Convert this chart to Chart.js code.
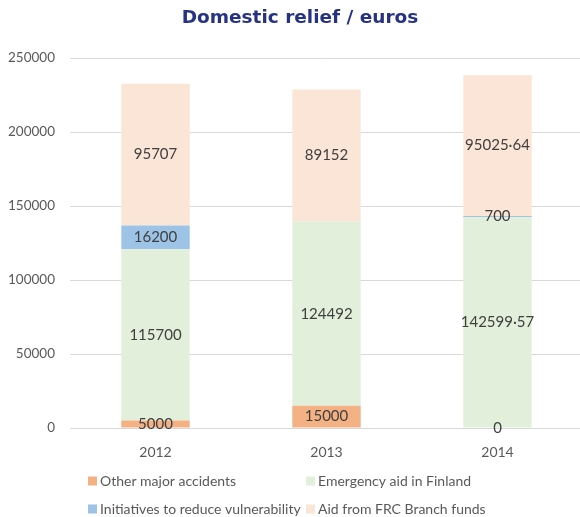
<!DOCTYPE html>
<html><head><meta charset="utf-8">
<script src="https://cdn.jsdelivr.net/npm/chart.js@4/dist/chart.umd.min.js"></script>
<style>
html,body{margin:0;padding:0;background:#fff;overflow:hidden;}
#wrap{width:584px;height:517px;position:relative;}
</style></head>
<body>
<div id="wrap"><canvas id="c" width="584" height="517"></canvas></div>
<script>
const categories = ["2012", "2013", "2014"];
const otherMajorAccidents = [5000, 15000, 0];
const emergencyAidFinland = [115700, 124492, 142599.57];
const initiativesVulnerability = [16200, null, 700];
const aidBranchFunds = [95707, 89152, 95025.64];
const yTicks = [0, 50000, 100000, 150000, 200000, 250000];
const titleText = "Domestic relief / euros";

const FONT = "Lato, 'Open Sans', sans-serif";

function fmt(v){
  if (Number.isInteger(v)) return String(v);
  return v.toFixed(2).replace('.', '\u00B7');
}

const customPlugin = {
  id: 'custom',
  afterDatasetsDraw(chart){
    const ctx = chart.ctx;
    ctx.save();
    ctx.font = "15px " + FONT;
    ctx.fillStyle = "#404040";
    ctx.textAlign = "center";
    ctx.textBaseline = "middle";
    chart.data.datasets.forEach((ds, i) => {
      const meta = chart.getDatasetMeta(i);
      meta.data.forEach((bar, j) => {
        const v = ds.data[j];
        if (v === null || v === undefined) return;
        const y = (bar.y + bar.base) / 2;
        ctx.fillText(fmt(v), bar.x, y);
      });
    });
    ctx.restore();
  },
  afterDraw(chart){
    const ctx = chart.ctx;
    ctx.save();
    ctx.font = "bold 18.5px 'DejaVu Sans', sans-serif";
    ctx.fillStyle = "#263282";
    ctx.textAlign = "center";
    ctx.textBaseline = "middle";
    ctx.fillText(titleText, 300, 18);
    ctx.font = "14px " + FONT;
    ctx.textAlign = "left";
    const pos = [[88, 481], [306, 481], [88, 509], [306, 509]];
    chart.data.datasets.forEach((ds, i) => {
      const [x, y] = pos[i];
      ctx.fillStyle = ds.backgroundColor;
      ctx.fillRect(x, y - 4.5, 9, 9);
      ctx.fillStyle = "#595959";
      ctx.fillText(ds.label, x + 12, y);
    });
    ctx.restore();
  }
};

new Chart(document.getElementById('c'), {
  type: 'bar',
  data: {
    labels: categories,
    datasets: [
      { label: "Other major accidents", data: otherMajorAccidents, backgroundColor: "#F4B183" },
      { label: "Emergency aid in Finland", data: emergencyAidFinland, backgroundColor: "#E2EFDA" },
      { label: "Initiatives to reduce vulnerability", data: initiativesVulnerability, backgroundColor: "#9DC3E6" },
      { label: "Aid from FRC Branch funds", data: aidBranchFunds, backgroundColor: "#FBE5D6" }
    ]
  },
  options: {
    responsive: false,
    animation: false,
    layout: { padding: { top: 58, right: 1, bottom: 59, left: 0 } },
    plugins: { legend: { display: false }, title: { display: false }, tooltip: { enabled: false } },
    datasets: { bar: { categoryPercentage: 1, barPercentage: 0.4, borderWidth: 0 } },
    scales: {
      x: {
        stacked: true,
        grid: { display: false },
        border: { display: false },
        ticks: { font: { family: FONT, size: 14 }, color: "#595959", padding: 8 },
        afterFit(s){ s.height = 30; }
      },
      y: {
        stacked: true,
        min: 0, max: 250000,
        afterBuildTicks(s){ s.ticks = yTicks.map(v => ({ value: v })); },
        grid: { color: "#D9D9D9", lineWidth: 1, drawTicks: false },
        border: { display: false },
        ticks: { font: { family: FONT, size: 13.5 }, color: "#595959", padding: 15, callback: v => String(v) },
        afterFit(s){ s.width = 70; }
      }
    }
  },
  plugins: [customPlugin]
});
</script>
</body></html>
